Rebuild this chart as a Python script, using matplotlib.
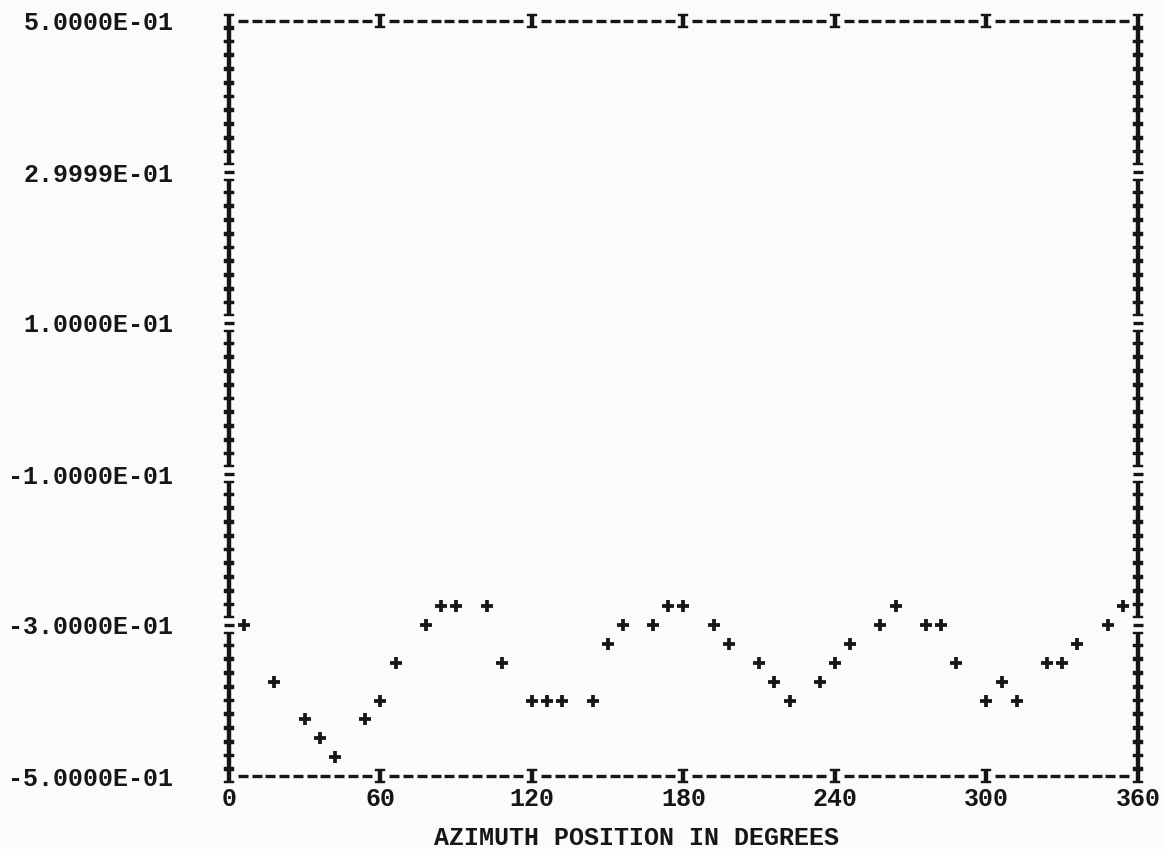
import numpy as np
import matplotlib
matplotlib.use('Agg')
import matplotlib.pyplot as plt

# printer-style glyphs for the frame characters
plt.rcParams['mathtext.fontset'] = 'custom'
plt.rcParams['mathtext.rm'] = 'Liberation Mono:bold'

INK = '#161616'
PAPER = '#fbfbfb'

# azimuth (deg) and plotted value
azimuth = [6, 18, 30, 36, 42, 54, 60, 66, 78, 84, 90, 102, 108,
           120, 126, 132, 144, 150, 156, 168, 174, 180, 192, 198, 210, 216, 222,
           234, 240, 246, 258, 264, 276, 282, 288, 300, 306, 312, 324, 330, 336, 348, 354]
values = [-0.300, -0.375, -0.425, -0.450, -0.475, -0.425, -0.400, -0.350, -0.300, -0.275, -0.275, -0.275, -0.350,
          -0.400, -0.400, -0.400, -0.400, -0.325, -0.300, -0.300, -0.275, -0.275, -0.300, -0.325, -0.350, -0.375, -0.400,
          -0.375, -0.350, -0.325, -0.300, -0.275, -0.300, -0.300, -0.350, -0.400, -0.375, -0.400, -0.350, -0.350, -0.325, -0.300, -0.275]

xticks = [0, 60, 120, 180, 240, 300, 360]
yticks = [-0.5, -0.3, -0.1, 0.1, 0.3, 0.5]
ylabels = ['-5.0000E-01', '-3.0000E-01', '-1.0000E-01', '1.0000E-01', '2.9999E-01', '5.0000E-01']
xlabel = 'AZIMUTH POSITION IN DEGREES'

fig = plt.figure(figsize=(11.65, 8.49), dpi=100, facecolor=PAPER)
ax = fig.add_axes([229/1165, 1 - 776/849, 909/1165, 755/849], facecolor=PAPER)
ax.set_xlim(0, 360)
ax.set_ylim(-0.5, 0.5)
for s in ax.spines.values():
    s.set_visible(False)

# frame made of printer characters: 11 cells between labelled ticks
cells = 11
fx = np.linspace(0, 360, 6 * cells + 1)
on_tick_x = np.arange(len(fx)) % cells == 0
fy = np.linspace(-0.5, 0.5, 5 * cells + 1)[1:-1]
on_tick_y = np.arange(1, len(fy) + 1) % cells == 0

I_mark = dict(ls='none', marker=r'$\mathrm{I}$', ms=10.5, color=INK, mec=INK, mew=0.3, clip_on=False)
dash_mark = dict(ls='none', marker='_', ms=7, mew=2.4, color=INK, clip_on=False)

for yb in (-0.5, 0.5):
    ax.plot(fx[on_tick_x], np.full(on_tick_x.sum(), yb), **I_mark)
    ax.plot(fx[~on_tick_x], np.full((~on_tick_x).sum(), yb), **dash_mark)
for xb in (0, 360):
    ax.plot(np.full((~on_tick_y).sum(), xb), fy[~on_tick_y], **I_mark)
    ax.plot(np.full(on_tick_y.sum(), xb), fy[on_tick_y], **dash_mark)

# data points
ax.plot(azimuth, values, ls='none', marker='+', ms=9, mew=2.7, color=INK, clip_on=False)

ax.set_xticks(xticks)
ax.set_xticklabels([str(t) for t in xticks], fontfamily='Liberation Mono',
                   fontweight='bold', fontsize=18, color=INK)
ax.set_yticks(yticks)
ax.set_yticklabels(ylabels, fontfamily='Liberation Mono', fontweight='bold',
                   fontsize=18, color=INK)
ax.tick_params(axis='x', length=0, pad=8)
ax.tick_params(axis='y', length=0, pad=40)

fig.text(636/1165, 1 - 838/849, xlabel, ha='center', va='center',
         fontfamily='Liberation Mono', fontweight='bold', fontsize=18, color=INK)

fig.savefig('out.png', dpi=100, facecolor=PAPER)
